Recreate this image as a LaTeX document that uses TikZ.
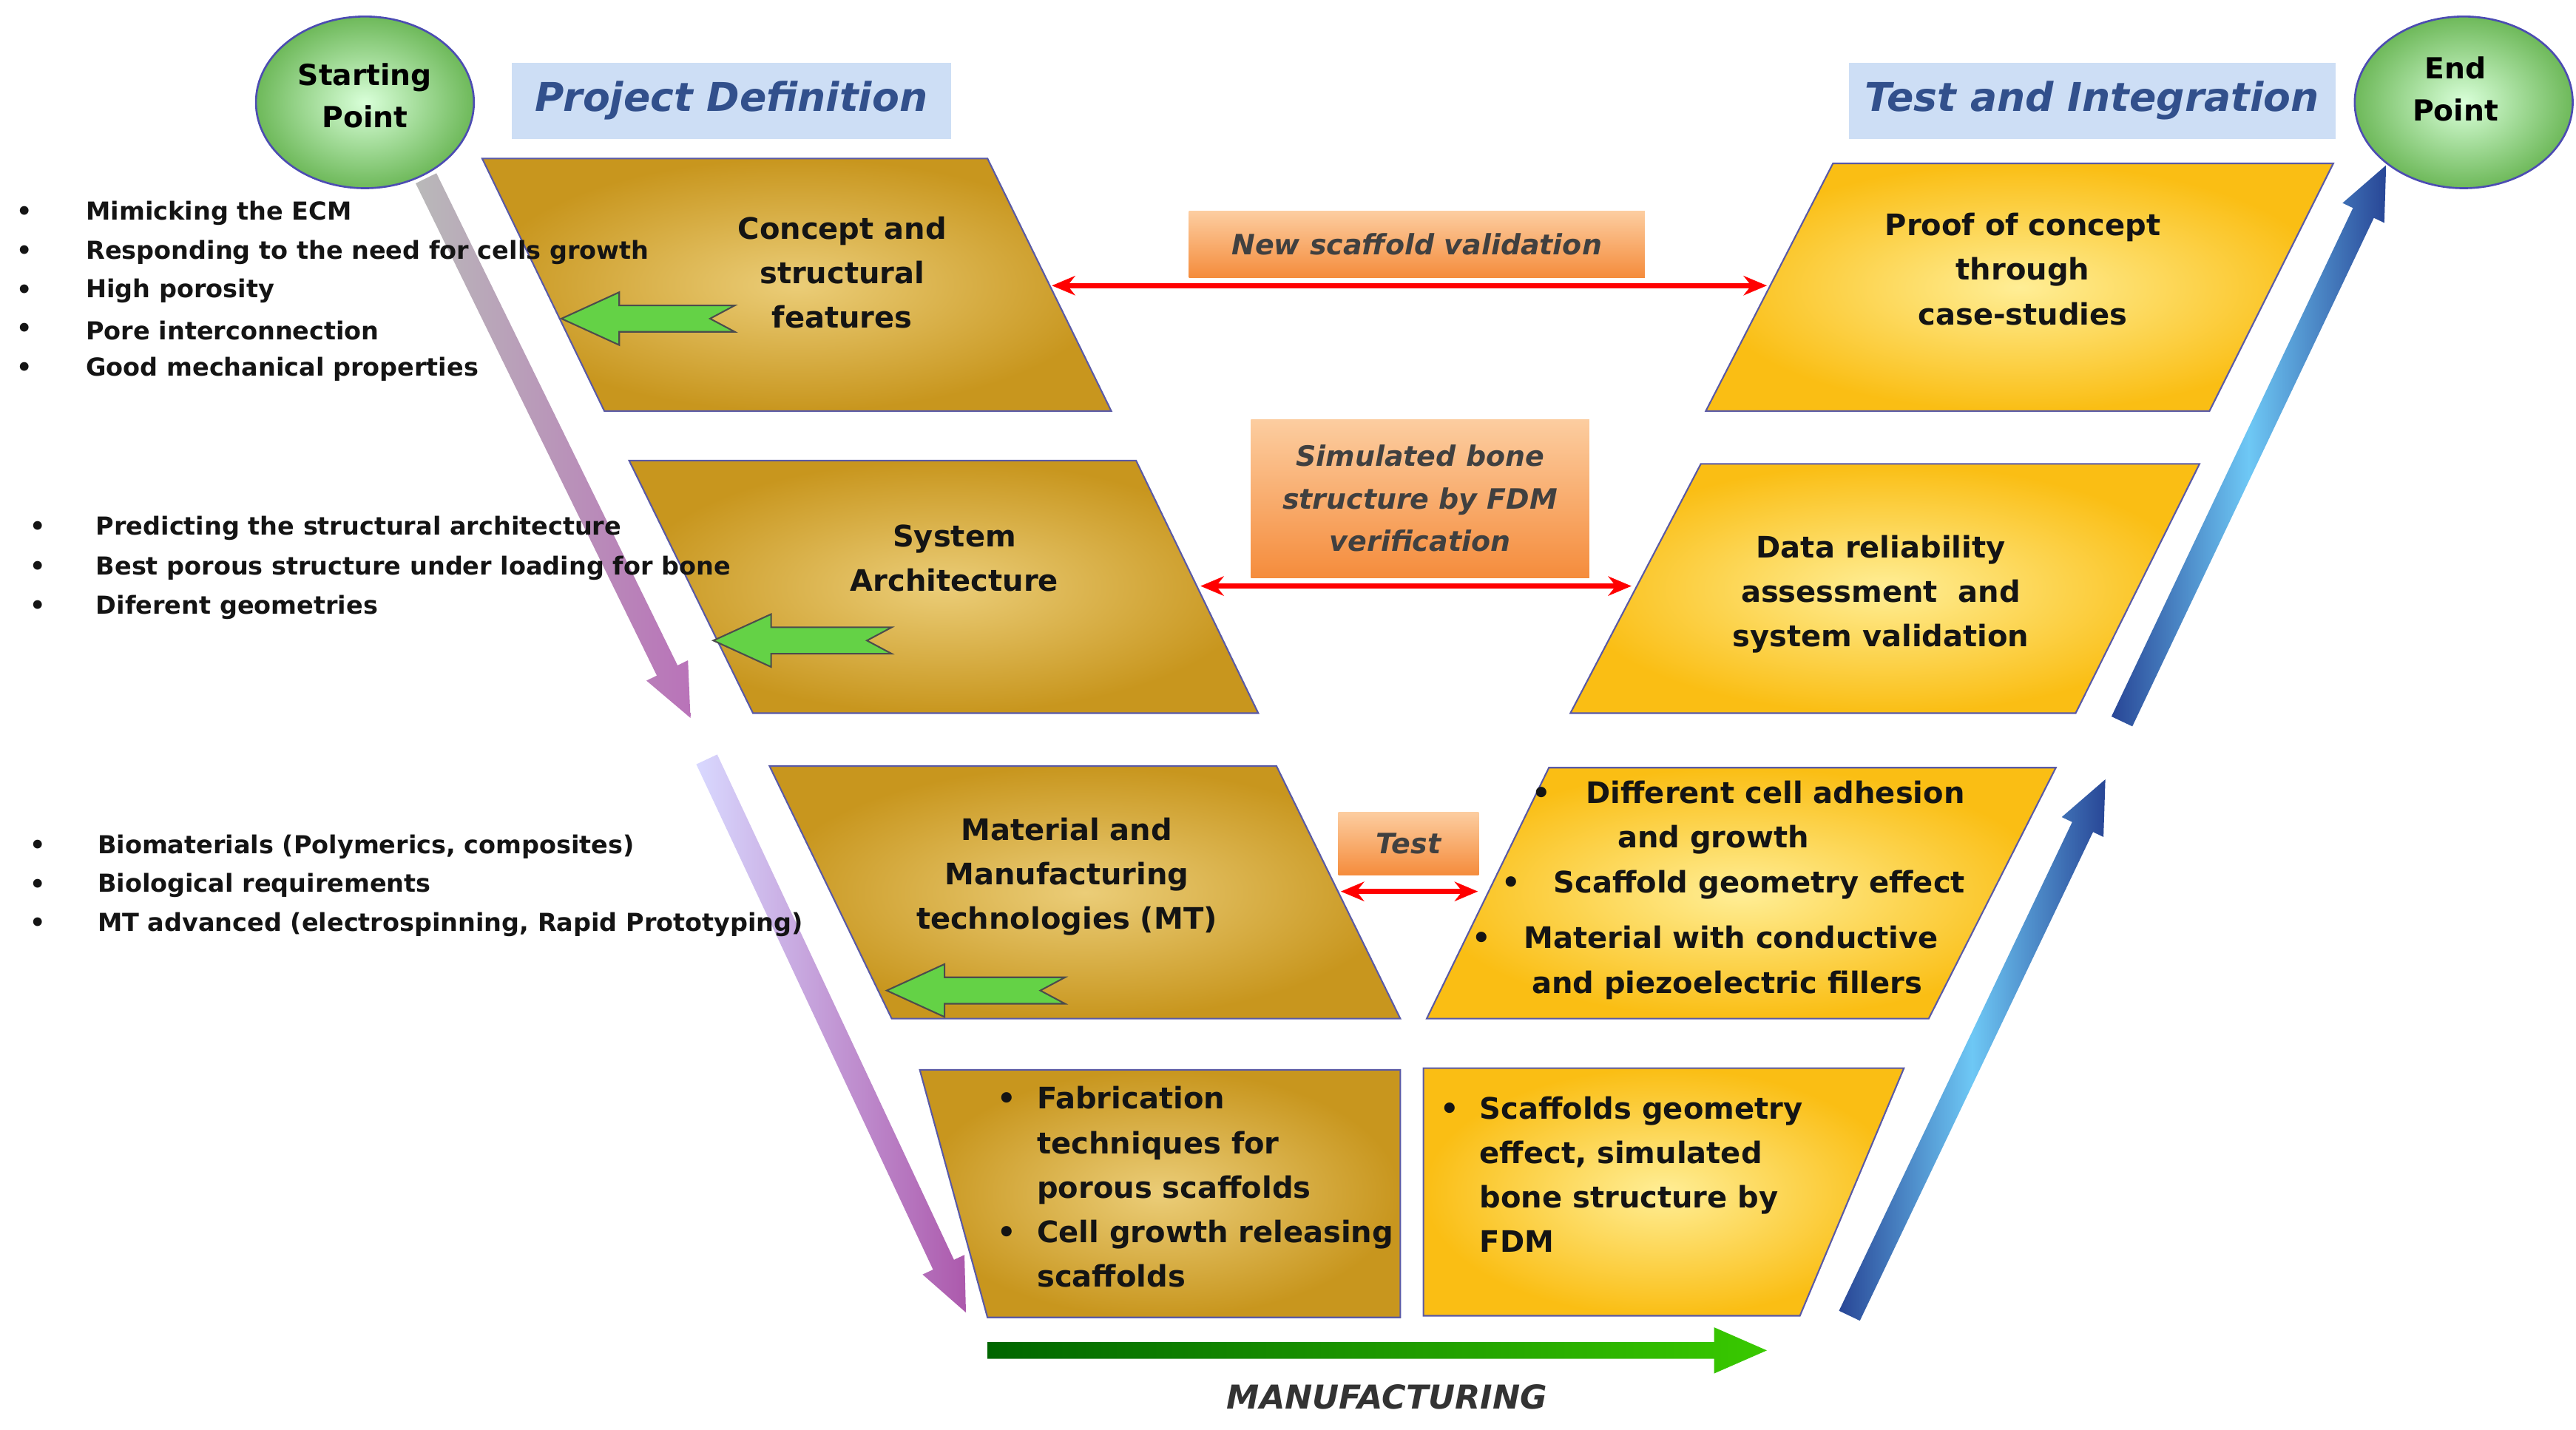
\documentclass[tikz,border=0pt]{standalone}
\usepackage{fontspec}
\setmainfont{DejaVu Sans}
\usetikzlibrary{arrows.meta}
\definecolor{gold}{RGB}{200,150,30}
\definecolor{goldin}{RGB}{235,205,120}
\definecolor{yel}{RGB}{250,190,20}
\definecolor{yelin}{RGB}{255,238,150}
\definecolor{hdr}{RGB}{50,80,140}
\definecolor{hdrbg}{RGB}{205,222,245}
\definecolor{txt}{RGB}{20,20,20}
\definecolor{orng}{RGB}{245,140,60}
\definecolor{orngl}{RGB}{252,205,160}
\definecolor{dblue}{RGB}{40,70,150}
\definecolor{lblue}{RGB}{110,200,245}
\definecolor{gr}{RGB}{100,210,70}
\definecolor{endg}{RGB}{110,185,90}
\tikzset{
 lpar/.style={inner color=goldin,outer color=gold,draw=gray!70!blue,line width=0.8pt},
 rpar/.style={inner color=yelin,outer color=yel,draw=gray!70!blue,line width=0.8pt},
 ptext/.style={font=\bfseries\fontsize{15.3}{23}\selectfont,text=txt,align=center},
 btext/.style={font=\bfseries\fontsize{12.8}{20}\selectfont,text=txt,align=left,anchor=west},
 hdrbox/.style={fill=hdrbg,font=\itshape\bfseries\fontsize{20.5}{25}\selectfont,text=hdr,inner sep=0pt},
 obox/.style={top color=orngl,bottom color=orng,font=\itshape\bfseries\fontsize{14.5}{22}\selectfont,text=black!75,align=center,inner sep=0pt},
 redarr/.style={{Stealth[length=12pt,width=10pt]}-{Stealth[length=12pt,width=10pt]},red,line width=2.5pt},
 garr/.style={fill=gr,draw=gray!60!black,line width=0.8pt},
 shA/.style={left color=gray!55,right color=violet!55},
 shB/.style={left color=blue!15,right color=violet!65},
 shC/.style={left color=dblue,right color=dblue,middle color=lblue},
 shD/.style={left color=green!40!black,right color=green!70!black!70!lime}
}
\newcommand{\shadearrow}[8]{% style,x,y,angle,length,halfshaft,halfhead,headlen
 \begin{scope}[shift={(#2,#3)},rotate=#4]
 \shade[#1] (0,-#6)--(#5-#8,-#6)--(#5-#8,-#7)--(#5,0)--(#5-#8,#7)--(#5-#8,#6)--(0,#6)--cycle;
 \end{scope}}
\begin{document}
\begin{tikzpicture}[x=0.03cm,y=-0.03cm]
\useasboundingbox (0,0) rectangle (1560,866);
% ellipses
\shade[inner color=green!15!white,outer color=endg,draw=blue!40!gray,line width=1pt] (221,62) ellipse [x radius=66,y radius=52];
\node[font=\bfseries\fontsize{15}{22}\selectfont,align=center] (start) at (221,58) {Starting\\Point};
\shade[inner color=green!15!white,outer color=endg,draw=blue!40!gray,line width=1pt] (1492,62) ellipse [x radius=66,y radius=52];
\node[font=\bfseries\fontsize{15}{22}\selectfont,align=center] (endp) at (1487,54) {End\\Point};
% headers
\node[hdrbox,minimum width=266*0.03cm,minimum height=46*0.03cm] (pd) at (443,61) {Project Definition};
\node[hdrbox,minimum width=295*0.03cm,minimum height=46*0.03cm] (ti) at (1267,61) {Test and Integration};
% diagonal arrows
\shadearrow{shA}{258}{108}{-63.9}{364}{7}{14}{32}
\shadearrow{shB}{428}{460}{-64.9}{370}{7}{14}{32}
\shadearrow{shC}{1285}{437}{64.6}{373}{7}{14}{32}
\shadearrow{shC}{1120}{797}{64.5}{360}{7}{14}{32}
\shadearrow{shD}{598}{818}{0}{472}{5}{14}{32}
\node[font=\itshape\bfseries\fontsize{17}{20}\selectfont,text=black!80] (mf) at (840,846) {MANUFACTURING};
% left parallelograms
\shade[lpar] (292,96)--(598,96)--(673,249)--(366,249)--cycle;
\shade[lpar] (381,279)--(688,279)--(762,432)--(456,432)--cycle;
\shade[lpar] (466,464)--(773,464)--(848,617)--(540,617)--cycle;
\shade[lpar] (557,648)--(848,648)--(848,798)--(598,798)--cycle;
% right parallelograms
\shade[rpar] (1110,99)--(1413,99)--(1338,249)--(1033,249)--cycle;
\shade[rpar] (1030,281)--(1332,281)--(1257,432)--(951,432)--cycle;
\shade[rpar] (938,465)--(1245,465)--(1168,617)--(864,617)--cycle;
\shade[rpar] (862,647)--(1153,647)--(1090,797)--(862,797)--cycle;
% coordinates
\coordinate (l1) at (637,173); \coordinate (r1) at (1070,173);
\coordinate (l2) at (727,355); \coordinate (r2) at (988,355);
\coordinate (l3) at (812,540); \coordinate (r3) at (895,540);
% texts
\node[ptext] (p1) at (510,165) {Concept and\\structural\\features};
\node[ptext] (p2) at (578,338) {System\\Architecture};
\node[ptext] (p3) at (646,531) {Material and\\Manufacturing\\technologies (MT)};
\node[ptext,align=left,anchor=north west] (p4) at (600,654) {• \ Fabrication\\\phantom{• \ }techniques for\\\phantom{• \ }porous scaffolds\\• \ Cell growth releasing\\\phantom{• \ }scaffolds};
\node[ptext] (q1) at (1225,163) {Proof of concept\\through\\case-studies};
\node[ptext] (q2) at (1139,360) {Data reliability\\assessment \ and\\system validation};
\node[ptext,align=left,anchor=north west] (q3) at (884,469) {\hspace{2.2em}•\hspace{1.2em}Different cell adhesion\\\hspace{5.1em}and growth\\\hspace{1.2em}•\hspace{1.1em}Scaffold geometry effect\\[6pt]\hspace{0.2em}•\hspace{1.1em}Material with conductive\\\hspace{2.2em}and piezoelectric fillers};
\node[ptext,align=left,anchor=north west] (q4) at (868,660) {• \ Scaffolds geometry\\\phantom{• \ }effect, simulated\\\phantom{• \ }bone structure by\\\phantom{• \ }FDM};
% orange boxes
\node[obox,minimum width=276*0.03cm,minimum height=40*0.03cm] (o1) at (858,148) {New scaffold validation};
\node[obox,minimum width=205*0.03cm,minimum height=96*0.03cm] (o2) at (860,302) {Simulated bone\\structure by FDM\\verification};
\node[obox,minimum width=85*0.03cm,minimum height=38*0.03cm] (o3) at (853,511) {Test};
\draw[redarr] (l1) -- (r1);
\draw[redarr] (l2) -- (r2);
\draw[redarr] (l3) -- (r3);
% green arrows
\draw[garr] (445,185)--(375,185)--(375,177)--(340,193)--(375,209)--(375,201)--(445,201)--(430,193)--cycle;
\draw[garr] (540,380)--(467,380)--(467,372)--(432,388)--(467,404)--(467,396)--(540,396)--(525,388)--cycle;
\draw[garr] (645,592)--(572,592)--(572,584)--(537,600)--(572,616)--(572,608)--(645,608)--(630,600)--cycle;
% bullet lists
\foreach \t [count=\i] in {Mimicking the ECM,Responding to the need for cells growth,High porosity,Pore interconnection,Good mechanical properties}{
 \node[btext] (a\i) at (48,129+23.7*\i-23.7) {\t};
 \node[btext] (ab\i) at (6,129+23.7*\i-23.7) {•};}
\foreach \t [count=\i] in {Predicting the structural architecture,Best porous structure under loading for bone,Diferent geometries}{
 \node[btext] (b\i) at (54,320+24*\i-24) {\t};
 \node[btext] (bb\i) at (14,320+24*\i-24) {•};}
\foreach \t [count=\i] in {Biomaterials (Polymerics{,} composites),Biological requirements,MT advanced (electrospinning{,} Rapid Prototyping)}{
 \node[btext] (c\i) at (55,513+23.5*\i-23.5) {\t};
 \node[btext] (cb\i) at (14,513+23.5*\i-23.5) {•};}
\end{tikzpicture}
\end{document}
